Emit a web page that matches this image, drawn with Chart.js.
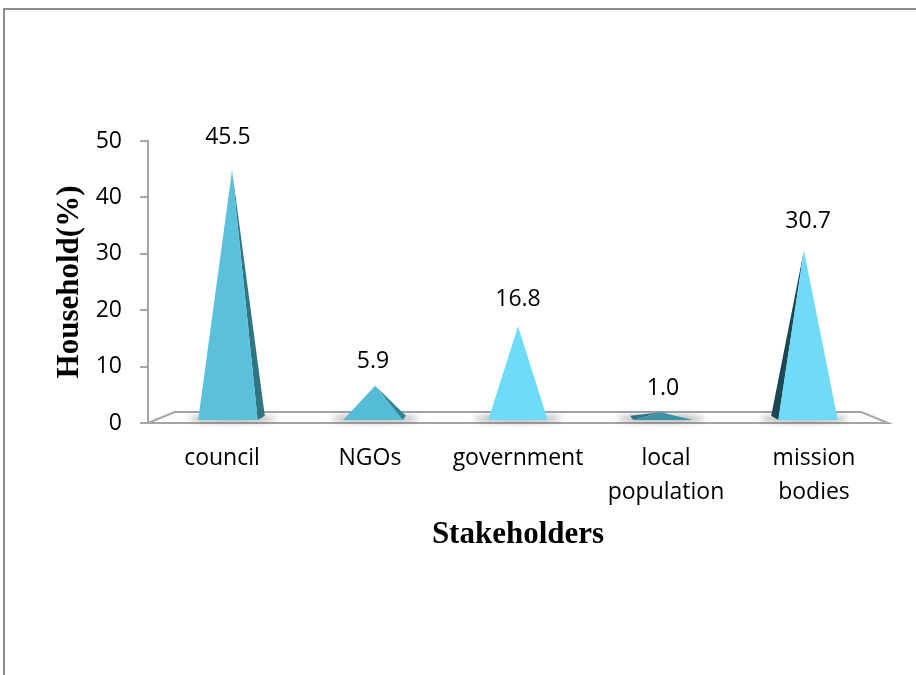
<!DOCTYPE html>
<html>
<head>
<meta charset="utf-8">
<script src="https://cdn.jsdelivr.net/npm/chart.js@4.4.1/dist/chart.umd.min.js"></script>
<style>
  html, body { margin: 0; padding: 0; background: #fff; }
  #wrap { position: relative; width: 916px; height: 675px; overflow: hidden; }
  #frame { position: absolute; left: 3px; top: 8px; width: 960px; height: 720px;
           border-top: 2px solid #8c8c8c; border-left: 2px solid #8c8c8c; }
  canvas { position: absolute; left: 0; top: 0; }
</style>
</head>
<body>
<div id="wrap">
  <div id="frame"></div>
  <canvas id="chart" width="916" height="675"></canvas>
</div>
<script>
// Share of households naming each stakeholder
const stakeholders = ['council', 'NGOs', 'government', ['local', 'population'], ['mission', 'bodies']];
const householdShare = [45.5, 5.9, 16.8, 1.0, 30.7];
const yTicks = [0, 10, 20, 30, 40, 50];

// Face colours of each pyramid (lit front face, shaded side face)
const faceColors = ['#5bc0da', '#55bcd8', '#6edcf8', '#3b93a9', '#6fdbf8'];
const sideColors = ['#2e7585', '#2f8399', '#4aa9c4', '#2d7487', '#1c4853'];

const FONT_SANS = "'Open Sans', 'Noto Sans', sans-serif";
const FONT_SERIF = "'Liberation Serif', 'Times New Roman', serif";

// Simple perspective: depth factor s shrinks points toward an eye point
const DEPTH = { floorBack: 0.928, front: 0.98, mid: 0.966, back: 0.953 };

function projector(area) {
  const cx0 = (area.left + area.right) / 2;
  const cy0 = area.top + 0.457 * (area.bottom - area.top);
  return (x, y, s) => [cx0 + (x - cx0) * s, cy0 + (y - cy0) * s];
}

function poly(ctx, pts, fill, stroke, lw) {
  ctx.beginPath();
  ctx.moveTo(pts[0][0], pts[0][1]);
  for (let i = 1; i < pts.length; i++) ctx.lineTo(pts[i][0], pts[i][1]);
  ctx.closePath();
  if (fill) { ctx.fillStyle = fill; ctx.fill(); }
  if (stroke) { ctx.strokeStyle = stroke; ctx.lineWidth = lw || 1; ctx.stroke(); }
}

const pyramidPlugin = {
  id: 'pyramids3d',
  beforeDatasetsDraw(chart) {
    const { ctx, chartArea: a, scales: { y } } = chart;
    const P = projector(a);
    const y0 = y.getPixelForValue(0);
    // floor slab outline
    const floor = [P(a.left, y0, 1), P(a.right, y0, 1), P(a.right, y0, DEPTH.floorBack), P(a.left, y0, DEPTH.floorBack)];
    ctx.save();
    poly(ctx, floor, '#ffffff', '#a4a4a4', 2);
    ctx.restore();
  },
  afterDatasetsDraw(chart) {
    const { ctx, chartArea: a, scales: { y } } = chart;
    const P = projector(a);
    const y0 = y.getPixelForValue(0);
    const meta = chart.getDatasetMeta(0);
    const ds = chart.data.datasets[0];

    // soft shadows on the floor
    ctx.save();
    ctx.filter = 'blur(3px)';
    meta.data.forEach((bar) => {
      const hw = bar.width / 2;
      const c = P(bar.x, y0, DEPTH.mid);
      ctx.beginPath();
      ctx.ellipse(c[0], c[1] + 1, hw * 1.45, 3.5, 0, 0, Math.PI * 2);
      ctx.fillStyle = 'rgba(90,90,90,0.5)';
      ctx.fill();
    });
    ctx.restore();

    // pyramids
    meta.data.forEach((bar, i) => {
      const hw = bar.width / 2;
      const L = bar.x - hw, R = bar.x + hw;
      const FL = P(L, y0, DEPTH.front), FR = P(R, y0, DEPTH.front);
      const BL = P(L, y0, DEPTH.back), BR = P(R, y0, DEPTH.back);
      const A = P(bar.x, bar.y, DEPTH.mid);
      ctx.save();
      if (BR[0] > FR[0] + 0.3) poly(ctx, [FR, BR, A], ds.sideColor[i]);
      if (BL[0] < FL[0] - 0.3) poly(ctx, [BL, FL, A], ds.sideColor[i]);
      poly(ctx, [FL, FR, A], ds.faceColor[i]);
      ctx.restore();
    });

    // value labels
    ctx.save();
    ctx.font = '23px ' + FONT_SANS;
    ctx.fillStyle = '#000000';
    ctx.textAlign = 'center';
    ctx.textBaseline = 'middle';
    meta.data.forEach((bar, i) => {
      const p = P(bar.x, bar.y, DEPTH.front);
      ctx.fillText(ds.data[i].toFixed(1), p[0], bar.y - 28.5);
    });
    ctx.restore();
  }
};

new Chart(document.getElementById('chart'), {
  type: 'bar',
  data: {
    labels: stakeholders,
    datasets: [{
      data: householdShare,
      backgroundColor: 'rgba(0,0,0,0)',
      borderWidth: 0,
      faceColor: faceColors,
      sideColor: sideColors,
      barPercentage: 0.41,
      categoryPercentage: 1.0
    }]
  },
  options: {
    responsive: false,
    animation: false,
    devicePixelRatio: 1,
    layout: { padding: { left: 0, top: 141, right: 28, bottom: 0 } },
    plugins: { legend: { display: false }, tooltip: { enabled: false } },
    scales: {
      x: {
        grid: { display: false, drawTicks: false },
        border: { display: false },
        ticks: { color: '#000000', font: { family: FONT_SANS, size: 23, lineHeight: 1.45 }, padding: 19, maxRotation: 0, autoSkip: false },
        title: { display: true, text: 'Stakeholders', color: '#000000',
                 font: { family: FONT_SERIF, size: 31, weight: 'bold', lineHeight: 1.2 },
                 padding: { top: 0, bottom: 121 } },
        afterFit: (s) => { s.height = 252; }
      },
      y: {
        min: yTicks[0],
        max: yTicks[yTicks.length - 1],
        afterBuildTicks: (s) => { s.ticks = yTicks.map(v => ({ value: v })); },
        grid: { display: true, drawOnChartArea: false, drawTicks: true, tickLength: 8, color: '#a4a4a4', lineWidth: 2 },
        border: { display: true, color: '#a4a4a4', width: 2 },
        ticks: { color: '#000000', font: { family: FONT_SANS, size: 23 }, padding: 18 },
        title: { display: true, text: 'Household(%)', color: '#000000',
                 font: { family: FONT_SERIF, size: 31, weight: 'bold', lineHeight: 1.2 },
                 padding: { top: 51, bottom: 0 } },
        afterFit: (s) => { s.width = 148; }
      }
    }
  },
  plugins: [pyramidPlugin]
});
</script>
</body>
</html>
